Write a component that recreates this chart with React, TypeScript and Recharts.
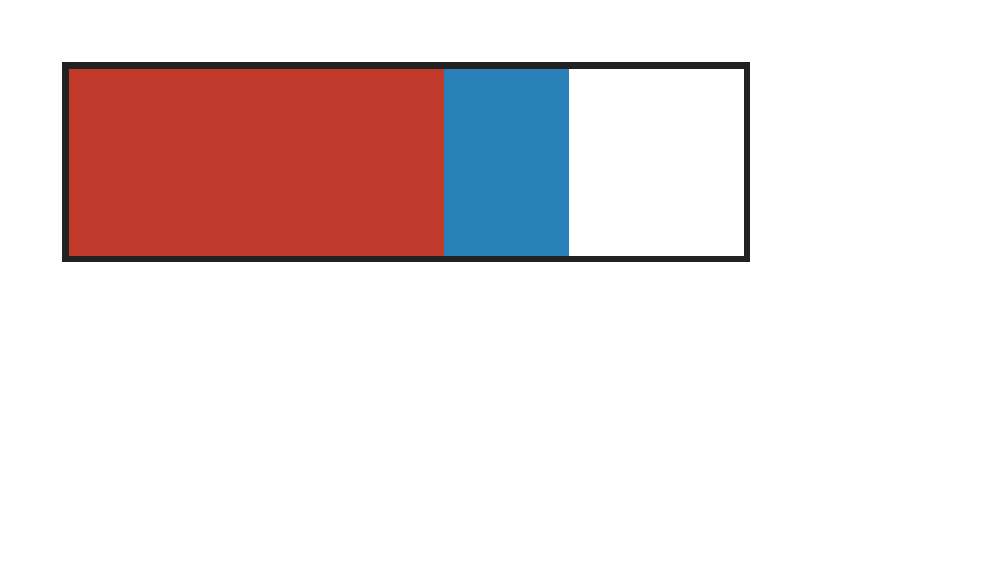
import { Bar, BarChart, XAxis, YAxis } from "recharts";

const categories = ["total"];
const firstPart = [15];
const secondPart = [5];
const remainder = [7];

const data = categories.map((name, i) => ({
  name,
  first: firstPart[i],
  second: secondPart[i],
  rest: remainder[i],
}));

const max = firstPart[0] + secondPart[0] + remainder[0];

export default function App() {
  return (
    <div style={{ width: 1000, height: 575, margin: -8, position: "relative", background: "#fff" }}>
      <div
        style={{
          position: "absolute",
          left: 62,
          top: 62,
          borderStyle: "solid",
          borderColor: "#222222",
          borderWidth: "7px 6px 6px 7px",
          width: 675,
          height: 187,
        }}
      >
        <BarChart
          width={675}
          height={187}
          data={data}
          layout="vertical"
          margin={{ top: 0, right: 0, bottom: 0, left: 0 }}
          barCategoryGap={0}
        >
          <XAxis type="number" hide domain={[0, max]} />
          <YAxis type="category" dataKey="name" hide />
          <Bar dataKey="first" stackId="a" fill="#C0392B" isAnimationActive={false} />
          <Bar dataKey="second" stackId="a" fill="#2980B9" isAnimationActive={false} />
          <Bar dataKey="rest" stackId="a" fill="#FFFFFF" isAnimationActive={false} />
        </BarChart>
      </div>
    </div>
  );
}
